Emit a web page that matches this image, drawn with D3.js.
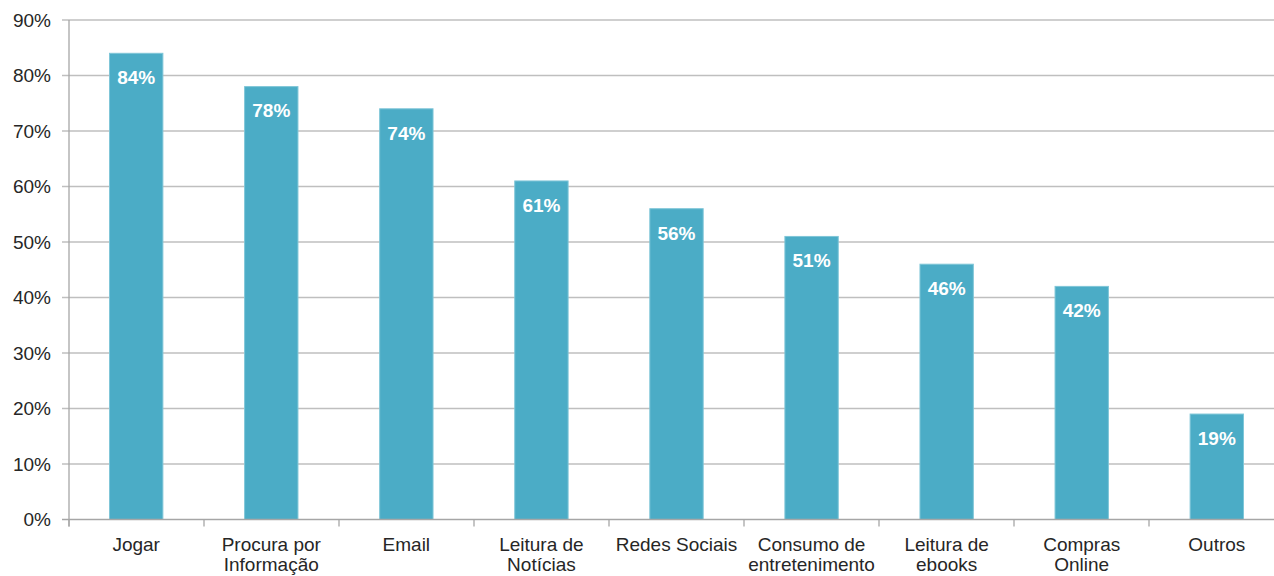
<!DOCTYPE html>
<html>
<head>
<meta charset="utf-8">
<script src="https://cdn.jsdelivr.net/npm/d3@7"></script>
<style>
  html, body { margin: 0; padding: 0; background: #ffffff; }
  svg text { font-family: "Liberation Sans", Arial, sans-serif; }
</style>
</head>
<body>
<svg id="chart" width="1274" height="576"></svg>
<script>
// Usage share by activity (percent)
const categories = [
  ["Jogar"],
  ["Procura por", "Informação"],
  ["Email"],
  ["Leitura de", "Notícias"],
  ["Redes Sociais"],
  ["Consumo de", "entretenimento"],
  ["Leitura de", "ebooks"],
  ["Compras", "Online"],
  ["Outros"]
];
const values = [84, 78, 74, 61, 56, 51, 46, 42, 19];
const yTicks = [0, 10, 20, 30, 40, 50, 60, 70, 80, 90];

const svg = d3.select("#chart");
const plotLeft = 69, plotRight = 1284, plotTop = 20, plotBottom = 519.5;

const keys = categories.map(c => c.join(" "));
const x = d3.scaleBand().domain(keys).range([plotLeft, plotRight]).paddingInner(0.605).paddingOuter(0.3);
const y = d3.scaleLinear().domain([0, 90]).range([plotBottom, plotTop]);

// horizontal gridlines
svg.append("g").selectAll("line").data(yTicks.filter(t => t > 0)).join("line")
  .attr("x1", plotLeft - 7).attr("x2", 1274)
  .attr("y1", d => y(d)).attr("y2", d => y(d))
  .attr("stroke", "#bfbfbf").attr("stroke-width", 1.3);

// y axis labels
svg.append("g").selectAll("text").data(yTicks).join("text")
  .attr("x", 51).attr("y", d => y(d)).attr("dy", "0.36em")
  .attr("text-anchor", "end").attr("font-size", 19).attr("fill", "#262626")
  .text(d => d + "%");

// bars
svg.append("g").selectAll("rect").data(values).join("rect")
  .attr("x", (d, i) => x(keys[i]))
  .attr("width", x.bandwidth())
  .attr("y", d => y(d))
  .attr("height", d => y(0) - y(d))
  .attr("fill", "#4bacc6")
  .attr("stroke", "#7fc6d8").attr("stroke-width", 1);

// value labels inside bars
svg.append("g").selectAll("text").data(values).join("text")
  .attr("x", (d, i) => x(keys[i]) + x.bandwidth() / 2)
  .attr("y", d => y(d) + 24).attr("dy", "0.36em")
  .attr("text-anchor", "middle").attr("font-size", 19).attr("font-weight", "bold")
  .attr("fill", "#ffffff")
  .text(d => d + "%");

// axis lines
svg.append("line").attr("x1", plotLeft).attr("x2", plotLeft).attr("y1", plotTop).attr("y2", plotBottom + 7)
  .attr("stroke", "#a6a6a6").attr("stroke-width", 1.3);
svg.append("line").attr("x1", plotLeft - 7).attr("x2", 1274).attr("y1", plotBottom).attr("y2", plotBottom)
  .attr("stroke", "#a6a6a6").attr("stroke-width", 1.3);

// category boundary ticks
const bandStep = (plotRight - plotLeft) / keys.length;
svg.append("g").selectAll("line").data(d3.range(keys.length + 1)).join("line")
  .attr("x1", i => plotLeft + i * bandStep)
  .attr("x2", i => plotLeft + i * bandStep)
  .attr("y1", plotBottom).attr("y2", plotBottom + 7)
  .attr("stroke", "#a6a6a6").attr("stroke-width", 1.3);

// category labels (one or two lines)
svg.append("g").selectAll("text").data(categories).join("text")
  .attr("y", 551)
  .attr("text-anchor", "middle").attr("font-size", 19).attr("fill", "#262626")
  .each(function(d, i) {
    const cx = x(keys[i]) + x.bandwidth() / 2;
    const t = d3.select(this);
    d.forEach((line, j) => {
      t.append("tspan").attr("x", cx).attr("dy", j === 0 ? 0 : 20).text(line);
    });
  });
</script>
</body>
</html>
